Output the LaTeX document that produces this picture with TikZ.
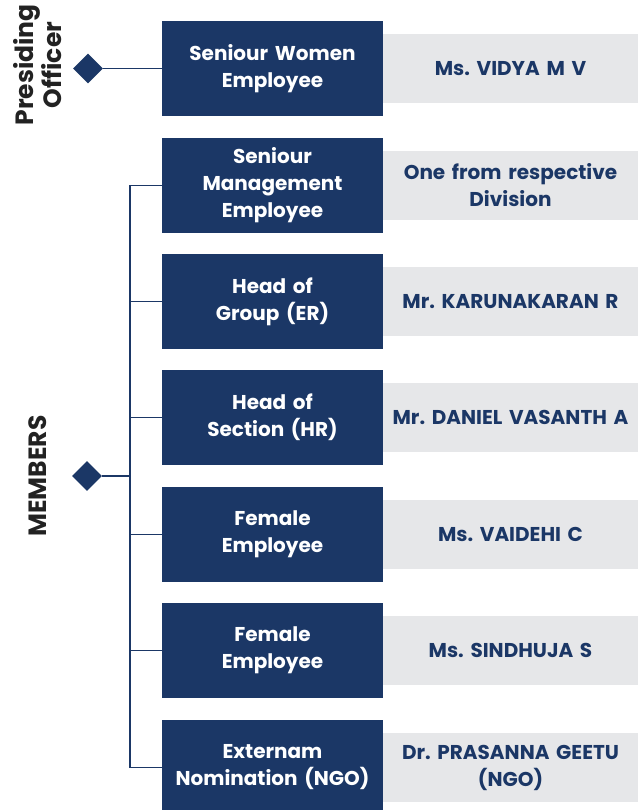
\documentclass[tikz,border=0pt]{standalone}
\usepackage{fontspec}
\setmainfont{Poppins}
\usepackage{tikz}
\usetikzlibrary{positioning,shapes.geometric}
\frenchspacing
\definecolor{navy}{HTML}{1B3766}
\definecolor{panel}{HTML}{E6E7E9}
\definecolor{ink}{HTML}{222222}
\tikzstyle{role}   = [rectangle, fill=navy, text=white, minimum width=221pt, minimum height=95pt, text width=215pt, align=center, inner sep=0pt, font=\fontsize{20}{27}\selectfont\bfseries]
\tikzstyle{person} = [rectangle, fill=panel, text=navy, minimum width=255pt, minimum height=69pt, text width=254pt, align=center, inner sep=0pt, font=\fontsize{20}{27}\selectfont\bfseries]
\tikzstyle{knot}   = [diamond, fill=navy, minimum size=30pt, inner sep=0pt]
\tikzstyle{side}   = [rotate=90, text=ink, align=center, font=\fontsize{25}{24}\selectfont\bfseries]
\tikzstyle{link}   = [draw=navy, line width=1.6pt]

\begin{document}
\begin{tikzpicture}[x=1pt,y=-1pt]
    \useasboundingbox (0,0) rectangle (638,810);
    \clip (0,0) rectangle (638,810);

    % names on the right
    \node[person] (p1) at (510.5,68.5)  {Ms. VIDYA M V};
    \node[person] (p2) at (510.5,185.5) {One from respective\\Division};
    \node[person] (p3) at (510.5,301.5) {Mr. KARUNAKARAN R};
    \node[person] (p4) at (510.5,417.5) {Mr. DANIEL VASANTH A};
    \node[person] (p5) at (510.5,534.5) {Ms. VAIDEHI C};
    \node[person] (p6) at (510.5,650.5) {Ms. SINDHUJA S};
    \node[person] (p7) at (510.5,767.5) {Dr. PRASANNA GEETU\\(NGO)};

    % roles
    \node[role] (r1) at (272.5,68.5)  {Seniour Women\\Employee};
    \node[role] (r2) at (272.5,185.5) {Seniour\\Management\\Employee};
    \node[role] (r3) at (272.5,301.5) {Head of\\Group (ER)};
    \node[role] (r4) at (272.5,417.5) {Head of\\Section (HR)};
    \node[role] (r5) at (272.5,534.5) {Female\\Employee};
    \node[role] (r6) at (272.5,650.5) {Female\\Employee};
    \node[role] (r7) at (272.5,767.5) {Externam\\Nomination (NGO)};

    % presiding officer
    \node[side] (po) at (38,65) {Presiding\\Officer};
    \node[knot] (d1) at (88,68.5) {};
    \draw[link] (d1.east) -- (r1.west);

    % members
    \node[side] (mb) at (38,476) {MEMBERS};
    \node[knot] (d2) at (87,476) {};
    \coordinate (bus) at (130,476);
    \draw[link] (d2.east) -- (bus);
    \draw[link] (r2.west) -| (bus) |- (r7.west);
    \draw[link] (r3.west) -- (r3.west -| bus);
    \draw[link] (r4.west) -- (r4.west -| bus);
    \draw[link] (r5.west) -- (r5.west -| bus);
    \draw[link] (r6.west) -- (r6.west -| bus);
\end{tikzpicture}
\end{document}
